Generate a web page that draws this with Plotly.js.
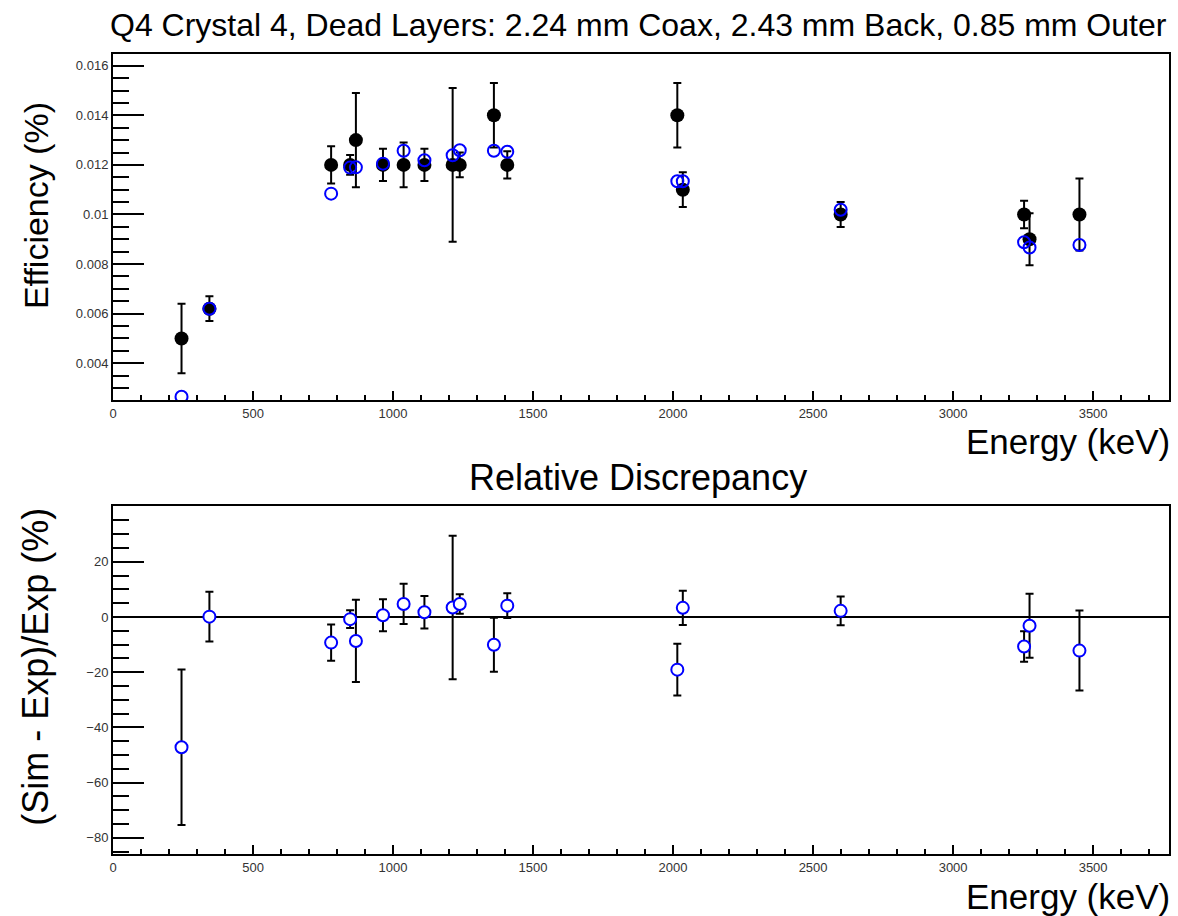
<!DOCTYPE html>
<html>
<head>
<meta charset="utf-8">
<script src="https://cdn.plot.ly/plotly-3.0.1.min.js"></script>
<style>html,body{margin:0;padding:0;background:#fff;}#chart{width:1178px;height:916px;}</style>
</head>
<body>
<div id="chart"></div>
<script>
// Gamma line energies (keV)
const energy = [244.7, 344.3, 778.9, 846.8, 867.4, 964.1, 1037.8, 1112.1, 1212.9, 1238.3, 1360.2, 1408.0, 2015.2, 2034.8, 2598.5, 3253.5, 3273.0, 3451.2];
// Experimental efficiency (%) and errors
const expEff = [0.0050, 0.0062, 0.0120, 0.0120, 0.0130, 0.0120, 0.0120, 0.0120, 0.0120, 0.0120, 0.0140, 0.0120, 0.0140, 0.0110, 0.0100, 0.0100, 0.0090, 0.0100];
const expErr = [0.0014, 0.0005, 0.00075, 0.0004, 0.0019, 0.00065, 0.0009, 0.00065, 0.0031, 0.0005, 0.0013, 0.00055, 0.0013, 0.0007, 0.0005, 0.00055, 0.00105, 0.00145];
// Simulated efficiency (%)
const simEff = [0.00265, 0.0062, 0.01084, 0.01189, 0.0119, 0.01205, 0.01257, 0.01219, 0.01239, 0.01259, 0.01257, 0.01253, 0.01134, 0.01134, 0.01019, 0.00888, 0.00867, 0.00877];
// Relative discrepancy (%) and errors
const disc = [-47.2, 0.1, -9.3, -0.8, -8.7, 0.6, 4.7, 1.7, 3.4, 4.7, -10.1, 4.1, -19.1, 3.3, 2.2, -10.7, -3.2, -12.2];
const discErr = [28.2, 9.0, 6.6, 3.2, 14.9, 5.8, 7.3, 5.9, 26.0, 3.5, 9.8, 4.5, 9.4, 6.2, 5.2, 5.5, 11.6, 14.5];

// Tick labels
const xTickVals = [0, 500, 1000, 1500, 2000, 2500, 3000, 3500];
const xTickText = ['0', '500', '1000', '1500', '2000', '2500', '3000', '3500'];
const effTickVals = [0.004, 0.006, 0.008, 0.010, 0.012, 0.014, 0.016];
const effTickText = ['0.004', '0.006', '0.008', '0.01', '0.012', '0.014', '0.016'];
const discTickVals = [-80, -60, -40, -20, 0, 20];
const discTickText = ['\u221280', '\u221260', '\u221240', '\u221220', '0', '20'];

const titleText = 'Q4 Crystal 4, Dead Layers: 2.24 mm Coax, 2.43 mm Back, 0.85 mm Outer';

const FONT = 'Liberation Sans, Arial, Helvetica, sans-serif';
const tickFont = {family: FONT, size: 13, color: '#333'};

function xAxis(anchor) {
  return {
    anchor: anchor, domain: [0, 1], range: [0, 3771],
    tickmode: 'array', tickvals: xTickVals, ticktext: xTickText,
    ticks: 'inside', ticklen: 9, tickwidth: 2, tickcolor: 'black',
    minor: {ticks: 'inside', ticklen: 5, tickwidth: 2, tickcolor: 'black', dtick: 100, tick0: 0, showgrid: false},
    showline: true, linecolor: 'black', linewidth: 2, mirror: true,
    showgrid: false, zeroline: false, tickfont: tickFont
  };
}

const traces = [
  {
    x: energy, y: expEff, xaxis: 'x', yaxis: 'y', type: 'scatter', mode: 'markers',
    error_y: {type: 'data', array: expErr, visible: true, color: 'black', thickness: 2, width: 4},
    marker: {symbol: 'circle', size: 14, color: 'black'}
  },
  {
    x: energy, y: simEff, xaxis: 'x', yaxis: 'y', type: 'scatter', mode: 'markers',
    marker: {symbol: 'circle-open', size: 12, color: 'blue', line: {color: 'blue', width: 2}}
  },
  {
    x: energy, y: disc, xaxis: 'x2', yaxis: 'y2', type: 'scatter', mode: 'markers',
    error_y: {type: 'data', array: discErr, visible: true, color: 'black', thickness: 2, width: 4},
    marker: {symbol: 'circle', size: 12, color: 'white', line: {color: 'blue', width: 2}}
  }
];

const layout = {
  width: 1178, height: 916,
  margin: {l: 113, r: 9, t: 54, b: 62},
  paper_bgcolor: 'white', plot_bgcolor: 'white',
  showlegend: false,
  font: {family: FONT, color: 'black'},
  xaxis: xAxis('y'),
  xaxis2: xAxis('y2'),
  yaxis: {
    anchor: 'x', domain: [0.5675, 1], range: [0.002519, 0.016472],
    tickmode: 'array', tickvals: effTickVals, ticktext: effTickText,
    ticks: 'inside', ticklen: 31, tickwidth: 2, tickcolor: 'black',
    minor: {ticks: 'inside', ticklen: 16, tickwidth: 2, tickcolor: 'black', dtick: 0.0005, tick0: 0, showgrid: false},
    showline: true, linecolor: 'black', linewidth: 2, mirror: true,
    showgrid: false, zeroline: false, tickfont: tickFont
  },
  yaxis2: {
    anchor: 'x2', domain: [0, 0.435], range: [-85.9, 40.2],
    tickmode: 'array', tickvals: discTickVals, ticktext: discTickText,
    ticks: 'inside', ticklen: 31, tickwidth: 2, tickcolor: 'black',
    minor: {ticks: 'inside', ticklen: 16, tickwidth: 2, tickcolor: 'black', dtick: 5, tick0: 0, showgrid: false},
    showline: true, linecolor: 'black', linewidth: 2, mirror: true,
    showgrid: false, zeroline: true, zerolinecolor: 'black', zerolinewidth: 2,
    tickfont: tickFont
  },
  annotations: [
    {text: titleText, xref: 'paper', yref: 'paper', x: 0.4976, y: 1.036, xanchor: 'center', yanchor: 'middle', showarrow: false, font: {family: FONT, size: 32, color: 'black'}},
    {text: 'Relative Discrepancy', xref: 'paper', yref: 'paper', x: 0.4976, y: 0.471, xanchor: 'center', yanchor: 'middle', showarrow: false, font: {family: FONT, size: 36, color: 'black'}},
    {text: 'Energy (keV)', xref: 'paper', yref: 'paper', x: 1.003, y: 0.516, xanchor: 'right', yanchor: 'middle', showarrow: false, font: {family: FONT, size: 35, color: 'black'}},
    {text: 'Energy (keV)', xref: 'paper', yref: 'paper', x: 1.003, y: -0.0525, xanchor: 'right', yanchor: 'middle', showarrow: false, font: {family: FONT, size: 35, color: 'black'}},
    {text: 'Efficiency (%)', xref: 'paper', yref: 'paper', x: -0.073, y: 0.811, xanchor: 'center', yanchor: 'middle', textangle: -90, showarrow: false, font: {family: FONT, size: 34, color: 'black'}},
    {text: '(Sim - Exp)/Exp (%)', xref: 'paper', yref: 'paper', x: -0.073, y: 0.234, xanchor: 'center', yanchor: 'middle', textangle: -90, showarrow: false, font: {family: FONT, size: 36, color: 'black'}}
  ]
};

Plotly.newPlot('chart', traces, layout, {staticPlot: true, displayModeBar: false});
</script>
</body>
</html>
